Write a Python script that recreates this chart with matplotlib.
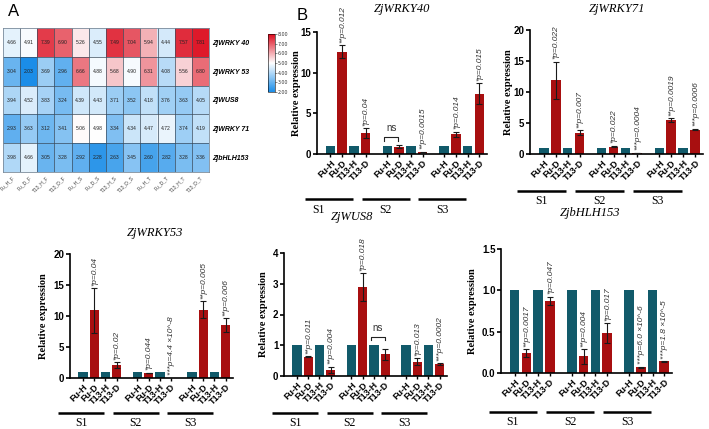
import numpy as np
import matplotlib.pyplot as plt
from matplotlib.colors import LinearSegmentedColormap
from matplotlib.transforms import blended_transform_factory

W, H = 709, 429

# ---- heatmap data (panel A) ----
heat_genes = ['ZjWRKY 40', 'ZjWRKY 53', 'ZjWUS8', 'ZjWRKY 71', 'ZjbHLH153']
heat_samples = ['Fu_H_F', 'Fu_D_F', 'T13_H_F', 'T13_D_F',
                'Fu_H_S', 'Fu_D_S', 'T13_H_S', 'T13_D_S',
                'Fu_H_T', 'Fu_D_T', 'T13_H_T', 'T13_D_T']
heat_wrky40 = [4.66, 4.91, 7.39, 6.90, 5.26, 4.55, 7.49, 7.04, 5.94, 4.44, 7.57, 7.81]
heat_wrky53 = [3.04, 2.03, 3.69, 2.96, 6.66, 4.88, 5.68, 4.90, 6.31, 4.08, 5.56, 6.80]
heat_wus8 = [3.94, 4.52, 3.83, 3.24, 4.39, 4.43, 3.71, 3.52, 4.18, 3.76, 3.63, 4.05]
heat_wrky71 = [2.93, 3.63, 3.12, 3.41, 5.06, 4.98, 3.34, 4.34, 4.47, 4.72, 3.74, 4.19]
heat_bhlh153 = [3.98, 4.66, 3.05, 3.28, 2.92, 2.28, 2.63, 3.45, 2.60, 2.82, 3.28, 3.36]

# ---- qPCR data (panel B) ----
stages = ['S1', 'S2', 'S3']
treatments = ['Fu-H', 'Fu-D', 'T13-H', 'T13-D']

wrky40_mean = [1, 12.6, 1, 2.6, 1, 0.9, 1, 0.22, 1, 2.45, 1, 7.4]
wrky40_err = [0, 0.8, 0, 0.6, 0, 0.15, 0, 0.05, 0, 0.3, 0, 1.3]
wrky40_sig = ['**', '*', '', '**', '*', '*']
wrky40_p = ['p=0.012', 'p=0.04', '', 'p=0.0015', 'p=0.014', 'p=0.015']

wrky71_mean = [1, 11.9, 1, 3.4, 1, 1.2, 1, 0.15, 1, 5.45, 1, 3.95]
wrky71_err = [0, 3.0, 0, 0.4, 0, 0.1, 0, 0.03, 0, 0.35, 0, 0.1]
wrky71_sig = ['*', '**', '*', '***', '**', '***']
wrky71_p = ['p=0.022', 'p=0.007', 'p=0.022', 'p=0.0004', 'p=0.0019', 'p=0.0006']

wrky53_mean = [1, 10.9, 1, 2.05, 1, 0.8, 1, 0.02, 1, 11.0, 1, 8.5]
wrky53_err = [0, 3.6, 0, 0.5, 0, 0.05, 0, 0.0, 0, 1.4, 0, 1.1]
wrky53_sig = ['*', '*', '*', '***', '**', '**']
wrky53_p = ['p=0.04', 'p=0.02', 'p=0.044', 'p=4.4 ×10^-8', 'p=0.005', 'p=0.006']

wus8_mean = [1, 0.63, 1, 0.2, 1, 2.9, 1, 0.7, 1, 0.47, 1, 0.38]
wus8_err = [0, 0.02, 0, 0.1, 0, 0.45, 0, 0.17, 0, 0.1, 0, 0.03]
wus8_sig = ['**', '**', '*', '', '*', '***']
wus8_p = ['p=0.011', 'p=0.004', 'p=0.018', '', 'p=0.013', 'p=0.0002']

bhlh153_mean = [1, 0.24, 1, 0.87, 1, 0.2, 1, 0.48, 1, 0.07, 1, 0.14]
bhlh153_err = [0, 0.05, 0, 0.05, 0, 0.09, 0, 0.12, 0, 0.005, 0, 0.005]
bhlh153_sig = ['**', '*', '**', '*', '***', '***']
bhlh153_p = ['p=0.0017', 'p=0.047', 'p=0.004', 'p=0.017', 'p=6.0 ×10^-6', 'p=1.8 ×10^-5']

TEAL = '#115a6a'
RED = '#a80f10'
SANS = 'Liberation Sans'
SERIF = 'Liberation Serif'
G = 4.85  # group offset in bar units


def px_rect(left, top, right, bottom):
    return [left / W, 1 - bottom / H, (right - left) / W, (bottom - top) / H]


def fy(y):
    return 1 - y / H


fig = plt.figure(figsize=(W / 100, H / 100), dpi=100)

# ---------------- panel A: heatmap ----------------
cmap = LinearSegmentedColormap.from_list('bwr2', ['#1a8de8', '#ffffff', '#dc0a1c'])
values = np.array([heat_wrky40, heat_wrky53, heat_wus8, heat_wrky71, heat_bhlh153])

axh = fig.add_axes(px_rect(3, 28, 209, 172))
im = axh.imshow(values, cmap=cmap, vmin=2, vmax=8, aspect='auto')
for r in range(values.shape[0]):
    for c in range(values.shape[1]):
        axh.text(c, r, f'{values[r, c]:.2f}', ha='center', va='center',
                 fontsize=3.6, color='#222222', family=SANS)
for k in range(1, values.shape[1]):
    axh.axvline(k - 0.5, color='#3a4a5a', lw=0.5)
for k in range(1, values.shape[0]):
    axh.axhline(k - 0.5, color='#3a4a5a', lw=0.5)
for s in axh.spines.values():
    s.set_color('#7a8a9a')
    s.set_linewidth(0.6)
axh.yaxis.tick_right()
axh.set_yticks(range(len(heat_genes)))
axh.set_yticklabels(heat_genes, fontsize=5, fontweight='bold', fontstyle='italic',
                    family=SANS)
axh.set_xticks(range(len(heat_samples)))
axh.set_xticklabels(heat_samples, fontsize=3.6, rotation=45, ha='right',
                    rotation_mode='anchor', color='#444444', family=SANS)
axh.tick_params(length=0, pad=2)

cax = fig.add_axes(px_rect(268, 34, 274.5, 92))
cb = fig.colorbar(im, cax=cax, ticks=[2, 3, 4, 5, 6, 7, 8], format='%.2f')
cb.ax.tick_params(labelsize=3.4, length=1.5, width=0.4, pad=1, colors='#333333')
cb.outline.set_linewidth(0.4)

fig.text(8 / W, fy(12), 'A', fontsize=12, ha='left', va='center', family=SANS)
fig.text(297 / W, fy(15), 'B', fontsize=12, ha='left', va='center', family=SANS)

# ---------------- panel B: bar charts ----------------
panels = [
    # gene, mean, err, sig, p, (left, top, right, bottom), ymax, step,
    # title xy, line y, label y, ylabel gap, first stage label shift (px)
    ('ZjWRKY40', wrky40_mean, wrky40_err, wrky40_sig, wrky40_p,
     (317, 32, 487, 154), 15, 5, (402, 9), 199, 210, 16, -10),
    ('ZjWRKY71', wrky71_mean, wrky71_err, wrky71_sig, wrky71_p,
     (530, 30, 703, 154), 20, 5, (617, 9), 191, 201, 17, 0),
    ('ZjWRKY53', wrky53_mean, wrky53_err, wrky53_sig, wrky53_p,
     (70, 254, 233, 378), 20, 5, (155, 233), 413, 423, 22, 0),
    ('ZjWUS8', wus8_mean, wus8_err, wus8_sig, wus8_p,
     (284, 253, 447, 376), 4, 1, (352, 217), 413, 423, 16, 0),
    ('ZjbHLH153', bhlh153_mean, bhlh153_err, bhlh153_sig, bhlh153_p,
     (501, 249, 672, 373), 1.5, 0.5, (590, 213), 412, 422, 24, 0),
]
ns_brackets = {'ZjWRKY40': (1, 0, 1), 'ZjWUS8': (1, 2, 3)}

x = np.array([g * G + i for g in range(3) for i in range(4)])
bar_colors = [TEAL, RED, TEAL, RED] * 3

for (gene, mean, err, sig, pv, rect, ymax, step, txy, line_y, lab_y,
     ygap, s1_dx) in panels:
    ax = fig.add_axes(px_rect(*rect))
    mean = np.array(mean, dtype=float)
    err = np.array(err, dtype=float)
    ax.bar(x, mean, width=0.82, color=bar_colors, edgecolor='none', zorder=2)
    m = err > 0
    ax.errorbar(x[m], mean[m], yerr=err[m], fmt='none', ecolor='#1a1a1a',
                elinewidth=0.8, capsize=2, capthick=0.8, zorder=3)
    ax.set_xlim(-1.15, 2 * G + 3 + 0.65)
    ax.set_ylim(0, ymax)
    yt = np.arange(0, ymax + step / 2, step)
    ax.set_yticks(yt)
    if step < 1:
        ax.set_yticklabels([f'{v:.1f}' for v in yt])
    else:
        ax.set_yticklabels([f'{v:g}' for v in yt])
    for s in ['top', 'right']:
        ax.spines[s].set_visible(False)
    for s in ['left', 'bottom']:
        ax.spines[s].set_linewidth(1.2)
    ax.tick_params(axis='y', length=3, width=1.2, labelsize=7, pad=1)
    ax.tick_params(axis='x', length=2, width=1.0, labelsize=6.5, pad=1)
    for t in ax.get_yticklabels():
        t.set_fontweight('bold')
        t.set_family(SANS)
    ax.set_xticks(x)
    ax.set_xticklabels(treatments * 3, rotation=45, ha='right',
                       rotation_mode='anchor', fontweight='bold', family=SANS)
    ax.set_ylabel('Relative expression', family=SERIF,
                  fontweight='bold', fontsize=7.5)
    width_px = rect[2] - rect[0]
    ax.yaxis.set_label_coords(-ygap / width_px, 0.5)
    px_per_unit = width_px / (2 * G + 3 + 0.65 + 1.15)

    # significance annotations on the drought bars
    for k, idx in enumerate([1, 3, 5, 7, 9, 11]):
        label = (sig[k] + pv[k]).strip()
        if not label:
            continue
        top = mean[idx] + err[idx]
        ax.text(x[idx] + 0.05, top + 0.02 * ymax, label, rotation=90,
                ha='center', va='bottom', fontsize=6, fontstyle='italic',
                color='#333333', zorder=4, clip_on=False, family=SANS)

    if gene in ns_brackets:
        g, a, b = ns_brackets[gene]
        ia, ib = g * 4 + a, g * 4 + b
        hy = max(mean[ia] + err[ia], mean[ib] + err[ib]) + 0.07 * ymax
        xa, xb = x[ia] - 0.3, x[ib] - 0.05
        ax.plot([xa, xa, xb, xb], [hy - 0.03 * ymax, hy, hy, hy - 0.03 * ymax],
                color='#222222', lw=0.8)
        ax.text((xa + xb) / 2, hy + 0.03 * ymax, 'ns', ha='center', va='bottom',
                fontsize=7, color='#333333', family=SANS)

    # stage group lines below the tick labels
    trans = blended_transform_factory(ax.transData, fig.transFigure)
    for g, st in enumerate(stages):
        x0, x1 = g * G - 2.2, g * G + 1.9
        ax.plot([x0, x1], [fy(line_y), fy(line_y)], transform=trans,
                clip_on=False, color='black', lw=1.8, solid_capstyle='butt')
        cx = (x0 + x1) / 2 + (s1_dx / px_per_unit if g == 0 else 0)
        ax.text(cx, fy(lab_y), st, transform=trans, ha='center',
                va='center', family=SERIF, fontsize=8.5)

    fig.text(txy[0] / W, fy(txy[1]), gene, ha='center', va='center',
             family=SERIF, fontstyle='italic', fontsize=9)

fig.savefig('out.png', dpi=100)
